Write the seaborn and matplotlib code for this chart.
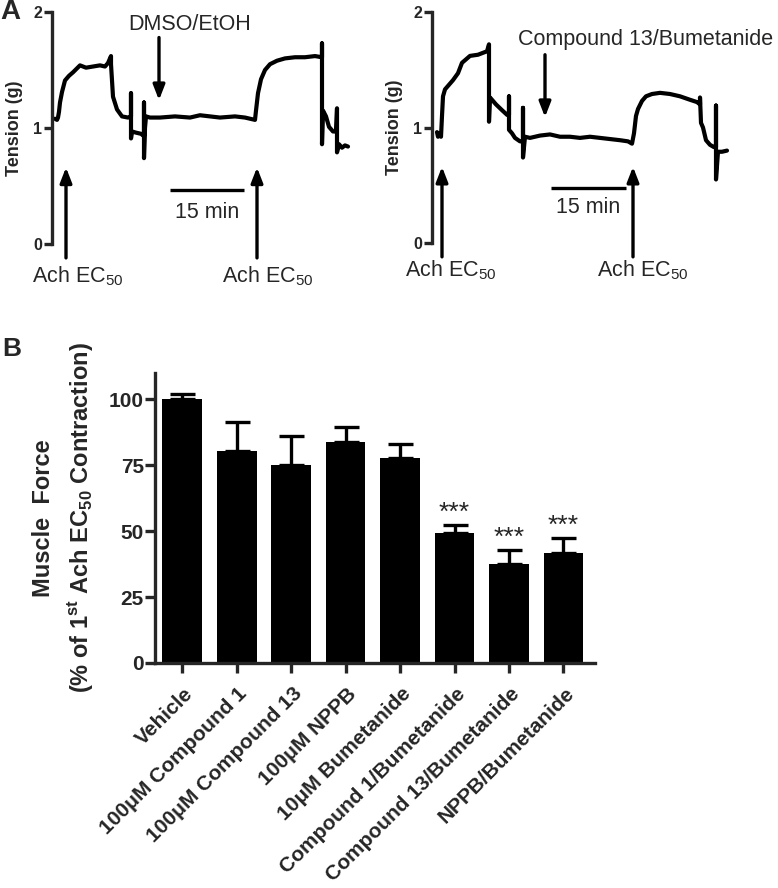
import matplotlib
matplotlib.use("Agg")
import numpy as np
import pandas as pd
import matplotlib.pyplot as plt
import matplotlib.transforms as mtransforms
import seaborn as sns

# ---------------- data ----------------
# panel A, left trace (vehicle): time (min), tension (g)
veh_time = [0.6, 1.0, 1.2, 1.4, 1.6, 2.0, 2.6, 3.4, 4.2, 5.6, 6.8, 8.2, 9.6, 10.6, 11.2,
            11.8, 11.8, 12.2, 13.0, 14.0, 15.2, 15.8, 15.8, 15.8, 16.0, 16.8, 17.8, 18.4,
            18.4, 18.4, 18.6, 18.8, 19.6, 21.6, 24.6, 27.6, 29.6, 31.6, 33.6, 36.6, 38.6,
            40.6, 40.8, 41.2, 41.8, 42.6, 43.6, 45.0, 46.6, 48.6, 50.6, 52.6, 54.0, 54.0,
            54.0, 54.2, 54.8, 55.4, 56.2, 56.8, 57.0, 57.0, 57.4, 58.0, 58.6, 59.2]
veh_tension = [1.08, 1.07, 1.09, 1.14, 1.22, 1.31, 1.41, 1.45, 1.48, 1.54, 1.52, 1.53, 1.54,
               1.53, 1.56, 1.62, 1.55, 1.27, 1.16, 1.10, 1.09, 1.10, 1.30, 0.91, 0.97, 0.96,
               0.95, 0.93, 1.22, 0.74, 1.00, 1.10, 1.09, 1.09, 1.10, 1.09, 1.11, 1.10, 1.09,
               1.10, 1.09, 1.07, 1.15, 1.30, 1.42, 1.50, 1.55, 1.58, 1.60, 1.61, 1.61, 1.62,
               1.61, 1.73, 0.86, 1.15, 1.10, 1.01, 0.97, 0.97, 1.17, 0.79, 0.86, 0.83, 0.85,
               0.84]

# panel A, right trace (compound 13 / bumetanide)
cmp_time = [1.0, 1.2, 1.6, 1.8, 2.0, 2.2, 2.6, 4.2, 5.2, 6.0, 7.6, 9.2, 11.0, 11.4, 11.4,
            11.6, 12.8, 14.0, 15.0, 15.4, 15.4, 15.4, 16.0, 16.6, 17.6, 18.2, 18.2, 18.2,
            18.6, 19.6, 21.6, 23.6, 25.6, 27.6, 29.6, 31.6, 33.6, 35.6, 37.6, 39.2, 40.0,
            40.4, 40.8, 41.2, 42.0, 42.8, 44.0, 45.6, 47.6, 49.6, 51.6, 53.0, 53.6, 53.6,
            53.8, 54.2, 54.8, 55.6, 56.4, 56.8, 56.8, 56.8, 57.2, 58.0, 59.0]
cmp_tension = [0.96, 0.92, 0.95, 0.92, 1.10, 1.27, 1.33, 1.41, 1.47, 1.56, 1.62, 1.63, 1.66,
               1.72, 1.05, 1.26, 1.20, 1.15, 1.11, 1.11, 1.27, 0.98, 0.95, 0.91, 0.88, 0.88,
               1.17, 0.74, 0.92, 0.91, 0.93, 0.94, 0.92, 0.92, 0.91, 0.92, 0.91, 0.90, 0.89,
               0.88, 0.86, 0.95, 1.10, 1.16, 1.23, 1.27, 1.29, 1.30, 1.29, 1.27, 1.24, 1.22,
               1.20, 1.26, 1.04, 1.00, 0.89, 0.85, 0.83, 0.83, 1.19, 0.55, 0.79, 0.79, 0.80]

# panel B
groups = ["Vehicle", "100\u03bcM Compound 1", "100\u03bcM Compound 13", "100\u03bcM NPPB",
          "10\u03bcM Bumetanide", "Compound 1/Bumetanide", "Compound 13/Bumetanide",
          "NPPB/Bumetanide"]
force = [100.1, 80.4, 75.2, 84.0, 77.7, 49.2, 37.7, 41.9]
sem = [2.1, 11.1, 10.9, 5.6, 5.2, 3.1, 5.3, 5.7]
signif = ["", "", "", "", "", "***", "***", "***"]

# ---------------- style ----------------
sns.set_style("ticks")
plt.rcParams["font.family"] = ["Liberation Sans", "DejaVu Sans"]
plt.rcParams["mathtext.fontset"] = "custom"
plt.rcParams["mathtext.rm"] = "Liberation Sans"
plt.rcParams["mathtext.bf"] = "Liberation Sans:bold"
plt.rcParams["axes.linewidth"] = 2.4

W, H = 778, 888
fig = plt.figure(figsize=(W / 100, H / 100), dpi=100)


def px_axes(left, top, right, bottom):
    return fig.add_axes([left / W, 1 - bottom / H, (right - left) / W, (bottom - top) / H])


def trace_panel(ax, t, y, events):
    sns.lineplot(x=t, y=y, sort=False, estimator=None, color="black", lw=3.0, ax=ax)
    ax.set_xlim(0, 64)
    ax.set_ylim(0, 2)
    ax.set_yticks([0, 1, 2])
    ax.set_yticklabels(["0", "1", "2"], fontsize=11.5, fontweight="bold")
    ax.tick_params(axis="y", length=6, width=2.4, pad=1)
    ax.set_xticks([])
    for s in ["top", "right", "bottom"]:
        ax.spines[s].set_visible(False)
    ax.set_xlabel("")
    ax.set_ylabel("Tension (g)", fontsize=13, fontweight="bold")
    ax.yaxis.set_label_coords(-0.092, 0.5)
    arrow = dict(arrowstyle="-|>,head_length=0.9,head_width=0.35", color="black",
                 lw=2.4, shrinkA=0, shrinkB=0)
    for x_arrow, x_text, y_text in events["up"]:
        ax.annotate("", xy=(x_arrow, 0.66), xytext=(x_arrow, -0.12),
                    arrowprops=arrow, annotation_clip=False)
        ax.text(x_text, y_text, "Ach EC$_{50}$", fontsize=15.5, ha="center",
                va="baseline", clip_on=False)
    xd, y0, y1, label, xl, yl = events["down"]
    ax.annotate("", xy=(xd, y1), xytext=(xd, y0), arrowprops=arrow, annotation_clip=False)
    ax.text(xl, yl, label, fontsize=15.5, ha="center", va="baseline", clip_on=False)
    xs0, xs1, ys, yst = events["scale"]
    ax.plot([xs0, xs1], [ys, ys], color="black", lw=2.4, solid_capstyle="butt")
    ax.text((xs0 + xs1) / 2, yst, "15 min", fontsize=15.5, ha="center", va="baseline")


axA1 = px_axes(52, 12, 372, 244)
trace_panel(axA1, veh_time, veh_tension, {
    "up": [(2.8, 5.2, -0.33), (41.0, 43.2, -0.33)],
    "down": (21.4, 1.78, 1.24, "DMSO/EtOH", 27.6, 1.845),
    "scale": (23.6, 38.4, 0.466, 0.224),
})

axA2 = px_axes(432, 12, 752, 243)
trace_panel(axA2, cmp_time, cmp_tension, {
    "up": [(2.0, 3.8, -0.29), (40.2, 42.2, -0.29)],
    "down": (22.6, 1.63, 1.09, "Compound 13/Bumetanide", 42.8, 1.71),
    "scale": (23.8, 38.8, 0.476, 0.26),
})

# ---------------- panel B ----------------
axB = px_axes(155, 373, 595, 663)
df = pd.DataFrame({"group": groups, "force": force, "sem": sem})
sns.barplot(data=df, x="group", y="force", color="black", saturation=1, width=0.73,
            errorbar=None, linewidth=0, ax=axB)
xpos = np.arange(len(groups))
axB.errorbar(xpos, df["force"], yerr=[np.zeros(len(groups)), df["sem"]], fmt="none",
             ecolor="black", elinewidth=2.4, capsize=9, capthick=2.4)
for x, m, e, s in zip(xpos, force, sem, signif):
    if s:
        axB.text(x, m + e + 4.5, s, ha="center", va="center", fontsize=19)
axB.set_xlim(-0.5, 7.58)
axB.set_ylim(0, 110)
axB.set_yticks([0, 25, 50, 75, 100])
axB.set_yticklabels(["0", "25", "50", "75", "100"], fontsize=15, fontweight="bold")
axB.tick_params(axis="both", length=7, width=2.4, pad=1)
axB.set_xlabel("")
axB.set_ylabel("")
sns.despine(ax=axB)
axB.set_xticks(xpos)
axB.set_xticklabels(groups, rotation=45, ha="right", va="top", rotation_mode="anchor",
                    fontsize=15, fontweight="bold")
offset = mtransforms.ScaledTranslation(1 / 100, -10 / 100, fig.dpi_scale_trans)
for lab in axB.get_xticklabels():
    lab.set_transform(lab.get_transform() + offset)

fig.text(44 / W, 1 - 518 / H, "Muscle  Force", rotation=90, ha="center", va="center",
         fontsize=17, fontweight="bold")
fig.text(80 / W, 1 - 518 / H,
         r"(% of 1$^{\mathbf{st}}$ Ach EC$_{\mathbf{50}}$ Contraction)",
         rotation=90, ha="center", va="center", fontsize=17, fontweight="bold")

fig.text(10 / W, 1 - 12 / H, "A", fontsize=20, fontweight="bold", ha="center", va="center")
fig.text(12 / W, 1 - 349 / H, "B", fontsize=19, fontweight="bold", ha="center", va="center")

fig.savefig("out.png", dpi=100, facecolor="white")
